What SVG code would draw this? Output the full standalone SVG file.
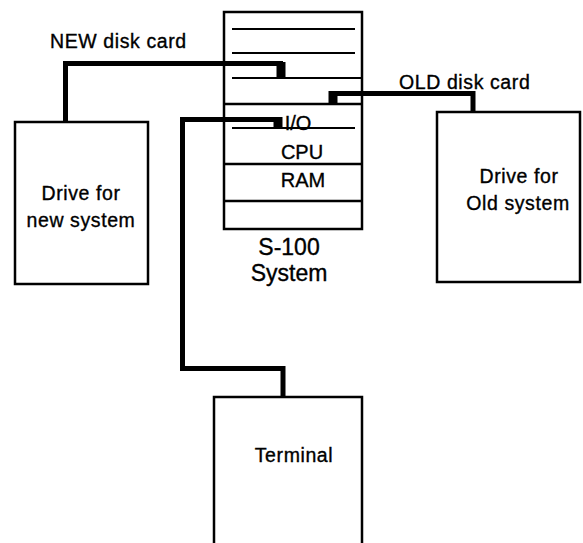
<svg xmlns="http://www.w3.org/2000/svg" width="583" height="543" viewBox="0 0 583 543">
<style>
.box{fill:#fff;stroke:#000;stroke-width:2.5}
.ln{stroke:#000;stroke-width:2;fill:none}
.div{stroke:#000;stroke-width:2.5;fill:none}
.cn{stroke:#000;stroke-width:5;fill:none;stroke-linejoin:miter;stroke-linecap:butt}
.blk{stroke:#000;stroke-width:9;fill:none;stroke-linecap:butt}
text{font-family:"Liberation Sans",Arial,sans-serif;fill:#000;stroke:#000;stroke-width:0.35}
.lbl{font-size:19.5px;letter-spacing:0.6px}
.mid{text-anchor:middle}
.big{font-size:23px;text-anchor:middle}
.in{font-size:20px;text-anchor:middle}
</style>
<rect width="583" height="543" fill="#fff"/>
<g id="s100">
<rect class="box" x="224" y="12" width="138" height="217"/>
<line class="ln" x1="232" y1="29" x2="355" y2="29"/>
<line class="ln" x1="232" y1="53" x2="355" y2="53"/>
<line class="ln" x1="232" y1="78" x2="362" y2="78"/>
<line class="div" x1="224" y1="104" x2="362" y2="104"/>
<line class="ln" x1="232" y1="128" x2="355" y2="128"/>
<line class="div" x1="224" y1="164" x2="362" y2="164"/>
<line class="div" x1="224" y1="201" x2="362" y2="201"/>
<text class="in" x="298" y="130">I/O</text>
<text class="in" x="302" y="159">CPU</text>
<text class="in" x="303" y="187">RAM</text>
<text class="big" x="289" y="255">S-100</text>
<text class="big" x="289" y="281">System</text>
</g>
<g id="drive-new">
<rect class="box" x="15" y="122" width="133" height="162"/>
<text class="lbl mid" x="81" y="200">Drive for</text>
<text class="lbl mid" x="81" y="227">new system</text>
</g>
<g id="drive-old">
<rect class="box" x="437" y="112" width="143" height="170"/>
<text class="lbl mid" x="519" y="183">Drive for</text>
<text class="lbl mid" x="518" y="210">Old system</text>
</g>
<g id="terminal">
<path class="box" d="M214 545 V397 H362 V545"/>
<text class="lbl mid" x="294" y="462">Terminal</text>
</g>
<g id="connectors">
<path class="cn" d="M65.5 122 V63.5 H283"/>
<line class="blk" x1="281" y1="62" x2="281" y2="77"/>
<path class="cn" d="M473 112 V93.5 H336"/>
<line class="blk" x1="333" y1="91" x2="333" y2="104"/>
<path class="cn" d="M280 119.5 H182.5 V368.5 H283 V397"/>
<line class="blk" x1="278" y1="117" x2="278" y2="128"/>
</g>
<g id="labels">
<text class="lbl" x="50" y="48">NEW disk card</text>
<text class="lbl" x="399" y="89">OLD disk card</text>
</g>
</svg>
